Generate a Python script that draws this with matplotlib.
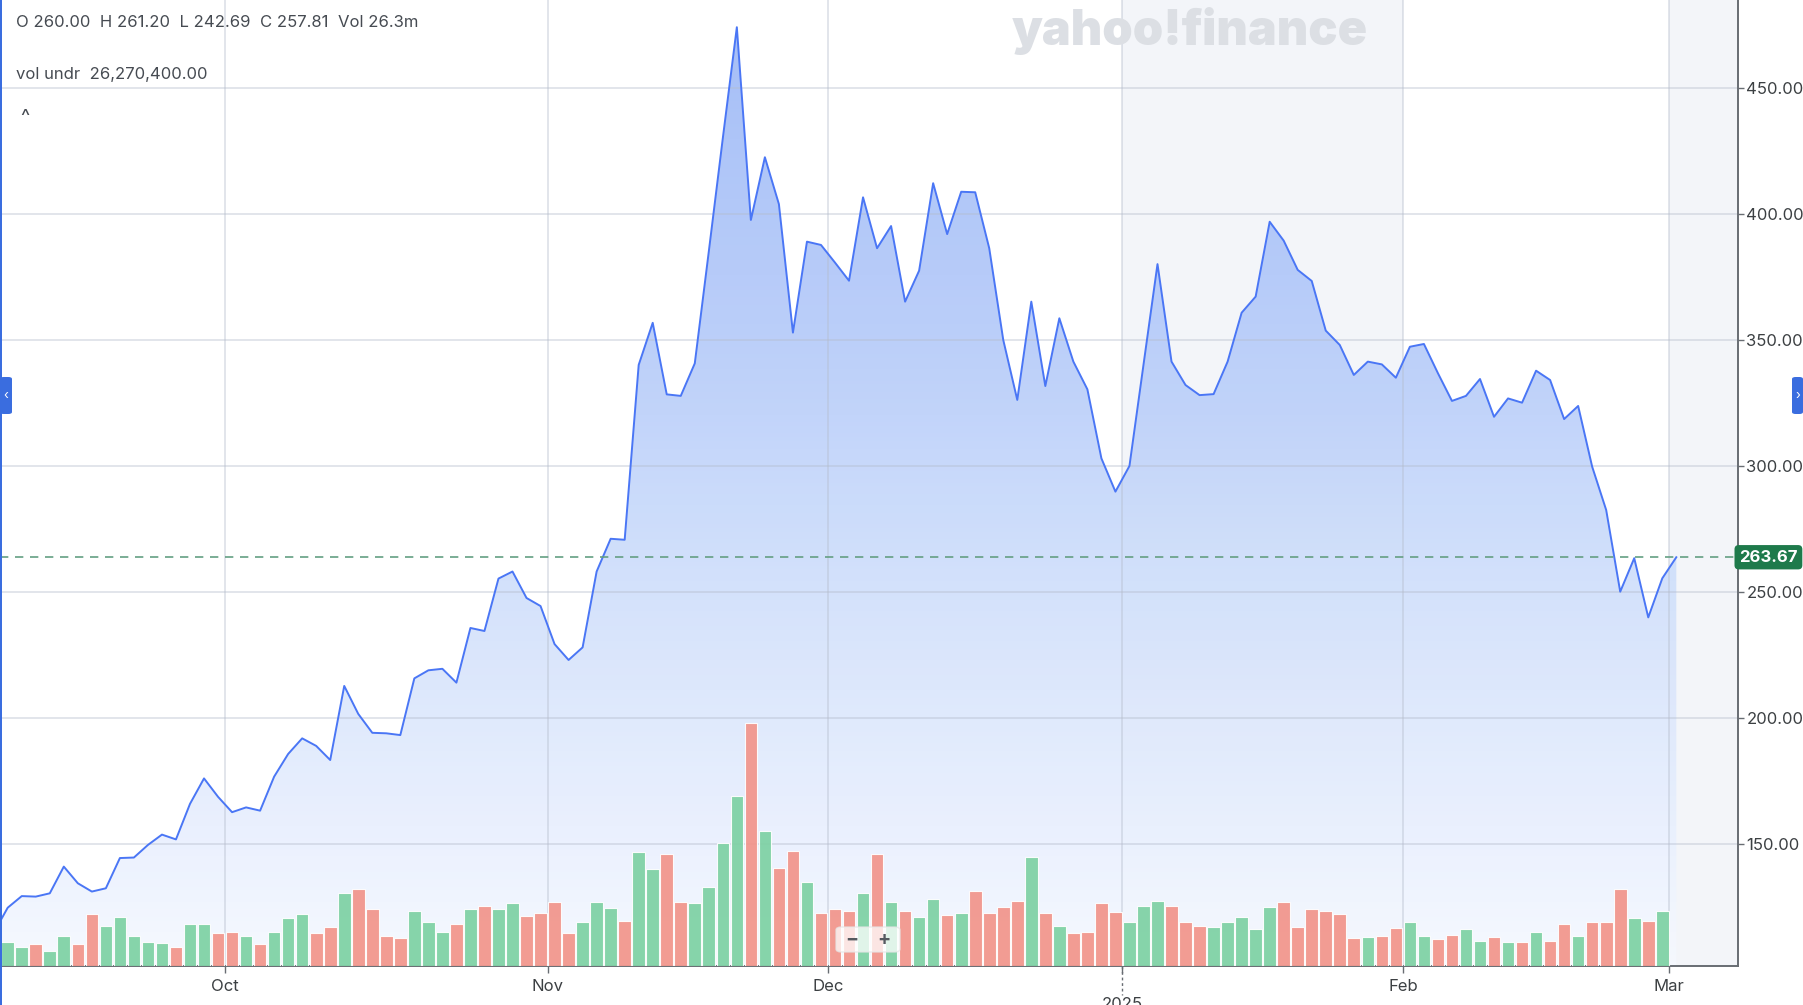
import matplotlib
matplotlib.use("Agg")
import matplotlib.pyplot as plt
import matplotlib.transforms as mtransforms
import numpy as np
import pandas as pd
from matplotlib.colors import LinearSegmentedColormap
from matplotlib.patches import Polygon, FancyBboxPatch, Rectangle

# ── Data ──
start_date, end_date = "2024-09-06", "2025-03-03"
holidays = ["2024-11-28", "2024-12-25", "2025-01-01", "2025-01-09",
            "2025-01-20", "2025-02-17"]

# daily closes, Sep 6 2024 .. Mar 3 2025
closes = [
    114.6, 124.6, 129.2, 129.0, 130.3, 140.9, 134.3, 131.0, 132.3, 144.3,
    144.5, 149.5, 153.6, 151.7, 165.8, 175.9, 168.6, 162.5, 164.4, 163.1,
    176.6, 185.6, 191.8, 188.8, 183.2, 212.6, 201.5, 194.0, 193.8, 193.1,
    215.6, 218.8, 219.4, 213.9, 235.6, 234.4, 255.2, 258.0, 247.5, 244.3,
    229.2, 222.9, 227.9, 258.0, 271.0, 270.6, 340.0, 356.7, 328.3, 327.7,
    340.6, 385.0, 430.0, 474.0, 397.5, 422.4, 403.8, 352.8, 388.9, 387.6,
    380.6, 373.4, 406.5, 386.3, 395.1, 365.1, 377.4, 412.1, 391.9, 408.7,
    408.5, 386.3, 349.9, 326.1, 365.1, 331.6, 358.5, 341.3, 330.3, 302.9,
    289.7, 299.9, 340.0, 380.0, 341.3, 332.0, 328.0, 328.4, 341.3, 360.7,
    367.1, 396.8, 389.3, 377.7, 373.3, 353.6, 347.9, 336.0, 341.3, 340.2,
    334.9, 347.2, 348.3, 336.7, 325.7, 327.7, 334.4, 319.4, 326.7, 325.0,
    337.7, 334.0, 318.5, 323.7, 299.6, 282.4, 250.0, 263.3, 239.8, 255.3,
    263.67,
]

# daily volume in millions, Sep 9 2024 .. Feb 28 2025
volumes = [
    10.9, 8.7, 9.8, 6.9, 13.6, 9.8, 23.3, 18.1, 22.2, 13.6,
    10.9, 10.2, 8.7, 18.8, 18.8, 14.7, 15.3, 13.6, 9.8, 15.3,
    21.5, 23.3, 14.7, 17.6, 32.7, 34.5, 25.5, 13.6, 12.5, 24.9,
    19.8, 15.3, 18.8, 25.5, 27.1, 25.5, 28.2, 22.6, 23.7, 28.8,
    14.7, 19.8, 28.8, 26.0, 20.4, 51.3, 43.5, 50.3, 28.9, 28.4,
    35.6, 55.2, 76.5, 109.2, 60.8, 44.0, 51.9, 37.8, 23.7, 25.5,
    24.9, 32.7, 50.3, 28.8, 24.9, 22.1, 30.0, 23.1, 23.7, 33.9,
    23.7, 26.6, 29.4, 49.1, 23.7, 18.0, 14.7, 15.3, 28.2, 24.3,
    19.8, 27.0, 29.3, 27.0, 19.8, 18.0, 17.6, 19.8, 22.1, 16.5,
    26.6, 28.8, 17.6, 25.5, 24.9, 23.3, 12.5, 13.1, 13.5, 17.0,
    19.8, 13.5, 12.0, 14.0, 16.5, 11.4, 13.1, 10.8, 10.8, 15.3,
    11.4, 18.8, 13.6, 19.8, 19.8, 34.5, 21.5, 20.4, 24.9,
]

last_price = 263.67
price_ticks = [150, 200, 250, 300, 350, 400, 450]
header = "O 260.00  H 261.20  L 242.69  C 257.81  Vol 26.3m"
vol_label = "vol undr  26,270,400.00"

# ── Style ──
plt.rcParams["font.family"] = ["Inter", "DejaVu Sans"]
TXT = "#464b52"
AXIS = "#686d73"
SHADE = "#f3f5f9"
LINE = "#4a76f5"
UP, DOWN = "#7dd1a3", "#f2948a"

W, H = 1803, 1005
fig = plt.figure(figsize=(W / 100, H / 100), dpi=100)
ax_l, ax_b, ax_w, ax_h = 0, 39 / H, 1738 / W, 966 / H
ax = fig.add_axes([ax_l, ax_b, ax_w, ax_h])

dates = pd.bdate_range(start_date, end_date, freq="C", holidays=holidays)
x = np.arange(len(dates)) - 1          # Sep 9 -> 0
closes = np.array(closes)
vx = x[1:1 + len(volumes)]
up = closes[1:1 + len(volumes)] >= closes[:len(volumes)]

new_month = np.r_[False, dates.month[1:] != dates.month[:-1]]
tick_pos = x[new_month] - 0.5
tick_lab = [d.strftime("%b") for d in dates[new_month]]
jan_pos = tick_pos[tick_lab.index("Jan")]
tick_lab = ["" if t == "Jan" else t for t in tick_lab]

xmin, xmax = -0.55, 123.4
ymin, ymax = 101.46, 484.8

# background shading for January and after the last session
ax.axvspan(tick_pos[3], tick_pos[4], color=SHADE, zorder=0, lw=0)
ax.axvspan(tick_pos[5], xmax, color=SHADE, zorder=0, lw=0)

# gradient area under the price line
poly = Polygon(np.column_stack([np.r_[x, x[-1], x[0]],
                                np.r_[closes, ymin, ymin]]),
               closed=True, fc="none", ec="none")
ax.add_patch(poly)
cmap = LinearSegmentedColormap.from_list(
    "fill", ["#f6f9ff", "#e9f0fe", "#dce7fc", "#cedefb", "#bfd2fa",
             "#b3c9f9", "#aac2f8", "#9fb9f6"])
grad = np.linspace(0, 1, 256).reshape(-1, 1)
im = ax.imshow(grad, extent=[x[0], x[-1], ymin, ymax], origin="lower",
               aspect="auto", cmap=cmap, zorder=1, alpha=0.95)
im.set_clip_path(poly)

ax.plot(x, closes, color=LINE, lw=1.4, zorder=3)
ax.axhline(last_price, color="#649f83", lw=1.2, ls=(0, (5, 4)), zorder=3)

ax.set_xlim(xmin, xmax)
ax.set_ylim(ymin, ymax)

# grid (drawn over the fill, under the line)
ax.set_yticks(price_ticks)
ax.set_yticklabels([f"{v:.2f}" for v in price_ticks])
ax.set_xticks(tick_pos)
ax.set_xticklabels(tick_lab)
ax.grid(True, color="#b4bccb", alpha=0.42, lw=1.3)
ax.set_axisbelow("line")

ax.yaxis.tick_right()
ax.tick_params(axis="y", length=4, width=1, color=AXIS, pad=2,
               labelsize=12, labelcolor="#3c4043")
ax.tick_params(axis="x", length=5, width=1, color=AXIS, pad=4.5,
               labelsize=12, labelcolor="#3c4043")
for side in ("left", "top"):
    ax.spines[side].set_visible(False)
for side in ("right", "bottom"):
    ax.spines[side].set_color(AXIS)
    ax.spines[side].set_linewidth(1.4)
ax.set_facecolor("white")

# year marker under the January tick
blend = mtransforms.blended_transform_factory(ax.transData, ax.transAxes)
ax.plot([jan_pos, jan_pos], [0, -0.03], transform=blend, color=AXIS,
        lw=1, ls=(0, (2, 2)), clip_on=False)
ax.text(jan_pos, -0.0325, "2025", transform=blend, ha="center", va="top",
        fontsize=12, color="#3c4043")

# last price badge
blend_y = mtransforms.blended_transform_factory(ax.transAxes, ax.transData)
ax.text(1.0175, last_price, f"{last_price:.2f}", transform=blend_y,
        ha="center", va="center", fontsize=12, fontweight="bold",
        color="white", zorder=10, clip_on=False,
        bbox=dict(boxstyle="round,pad=0.28,rounding_size=0.25",
                  fc="#1e7a4b", ec="none"))

# volume bars on their own scale
axv = fig.add_axes([ax_l, ax_b, ax_w, ax_h], sharex=ax)
axv.patch.set_visible(False)
axv.bar(vx, volumes, width=0.9, color=np.where(up, UP, DOWN),
        edgecolor="white", linewidth=0.8, alpha=0.92, zorder=2)
axv.set_ylim(0, 966 * 0.45)
axv.axis("off")
axv.set_xlim(xmin, xmax)

# watermark
fig.text(1012 / W, 1 - 45 / H, "yahoo!finance", fontsize=35,
         fontweight="black", color="#dcdfe4", va="baseline", ha="left",
         zorder=0.8)

# header readouts
fig.text(16 / W, 1 - 22.5 / H, header, fontsize=12, color=TXT,
         va="center", ha="left")
fig.text(16 / W, 1 - 75 / H, vol_label, fontsize=12, color=TXT,
         va="center", ha="left",
         bbox=dict(boxstyle="square,pad=0.3", fc="white", ec="none"))
fig.text(25 / W, 1 - 118 / H, "^", fontsize=14, color=TXT,
         va="center", ha="center")

# zoom control
fig.patches.append(FancyBboxPatch(
    (836 / W, 1 - 952 / H), 64 / W, 25 / H,
    boxstyle="round,pad=0,rounding_size=0.003", transform=fig.transFigure,
    fc="white", ec="#e6e6e6", alpha=0.75, zorder=20))
fig.text(852 / W, 1 - 940 / H, "\u2212", fontsize=14, fontweight="bold",
         color="#555a60", ha="center", va="center", zorder=21)
fig.text(884 / W, 1 - 940 / H, "+", fontsize=14, fontweight="bold",
         color="#555a60", ha="center", va="center", zorder=21)

# side handles
blue = "#3a6ddf"
fig.patches.append(Rectangle((0, 0), 2 / W, 1, transform=fig.transFigure,
                             fc=blue, ec="none", zorder=20))
fig.patches.append(FancyBboxPatch(
    (0, 1 - 414 / H), 12 / W, 37 / H,
    boxstyle="round,pad=0,rounding_size=0.002", transform=fig.transFigure,
    fc=blue, ec="none", zorder=20))
fig.patches.append(FancyBboxPatch(
    (1792 / W, 1 - 414 / H), 11 / W, 37 / H,
    boxstyle="round,pad=0,rounding_size=0.002", transform=fig.transFigure,
    fc=blue, ec="none", zorder=20))
fig.text(6 / W, 1 - 396 / H, "\u2039", fontsize=9, color="white",
         ha="center", va="center", zorder=21)
fig.text(1798 / W, 1 - 396 / H, "\u203a", fontsize=9, color="white",
         ha="center", va="center", zorder=21)

fig.savefig("out.png", dpi=100)
